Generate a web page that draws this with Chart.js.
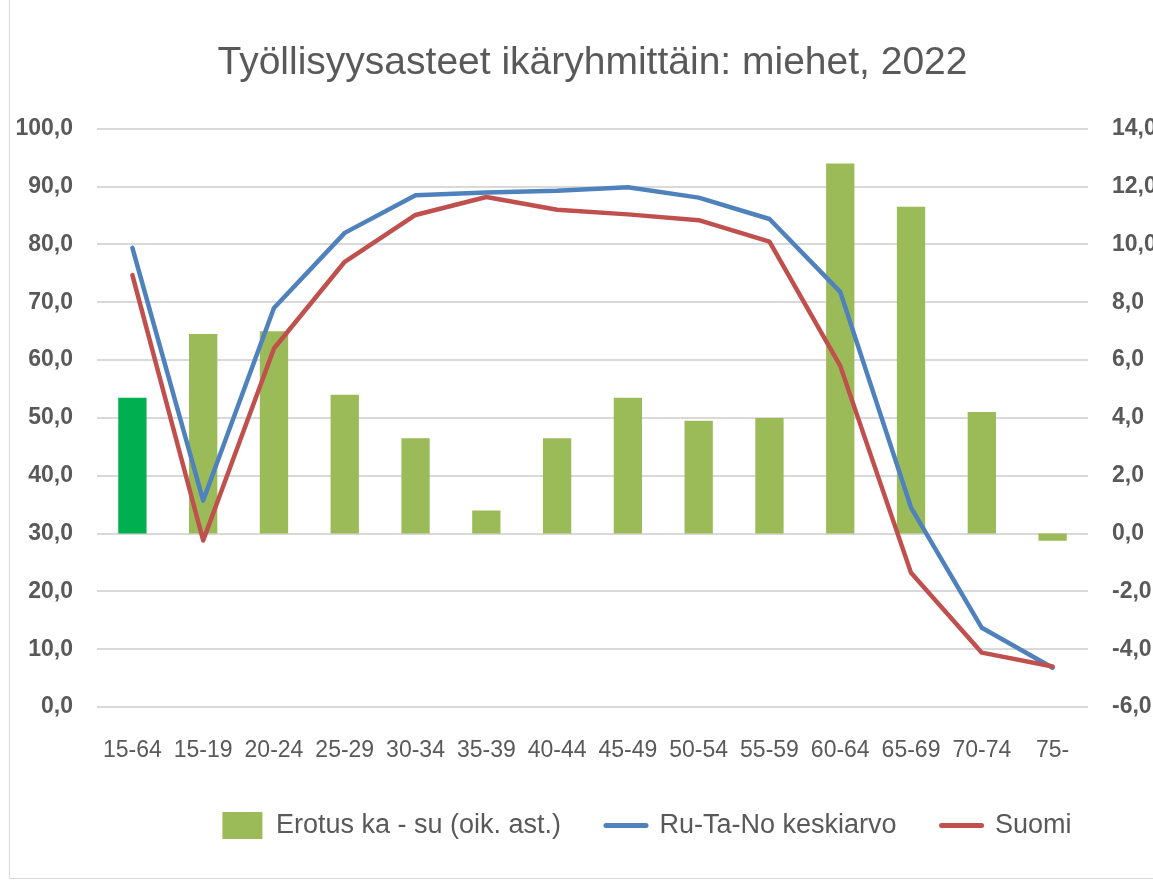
<!DOCTYPE html>
<html>
<head>
<meta charset="utf-8">
<script src="https://cdn.jsdelivr.net/npm/chart.js@4"></script>
<style>
  html, body { margin: 0; padding: 0; background: #fff; overflow: hidden; }
  #wrap { position: relative; width: 1153px; height: 882px; overflow: hidden; }
  #frame { position: absolute; left: 9px; top: -5px; width: 1300px; height: 884px; border: 1px solid #d9d9d9; box-sizing: border-box; }
  #myChart { position: absolute; left: 0; top: 0; }
</style>
</head>
<body>
<div id="wrap">
  <div id="frame"></div>
  <canvas id="myChart" width="1294" height="882"></canvas>
</div>
<script>
'use strict'

// age groups on the x axis
const ageGroups = ['15-64', '15-19', '20-24', '25-29', '30-34', '35-39', '40-44', '45-49', '50-54', '55-59', '60-64', '65-69', '70-74', '75-'];

// difference (right axis), average of Ru-Ta-No, Finland (left axis)
const erotus = [4.7, 6.9, 7.0, 4.8, 3.3, 0.8, 3.3, 4.7, 3.9, 4.0, 12.8, 11.3, 4.2, -0.25];
const keskiarvo = [79.4, 35.7, 69.0, 82.0, 88.5, 89.0, 89.3, 89.9, 88.1, 84.4, 71.8, 34.5, 13.7, 6.8];
const suomi = [74.7, 28.8, 62.0, 77.0, 85.1, 88.2, 86.0, 85.2, 84.2, 80.5, 59.0, 23.2, 9.4, 7.0];

const seriesNames = ['Erotus ka - su (oik. ast.)', 'Ru-Ta-No keskiarvo', 'Suomi'];
const titleText = 'Työllisyysasteet ikäryhmittäin: miehet, 2022';

const textColor = '#595959';
const fontName = "'Liberation Sans', Arial, sans-serif";

// first bar (15-64 total) is a darker green
var barColors = [];
for (let i = 0; i < ageGroups.length; i++) {
  barColors.push(i === 0 ? '#00b050' : '#9bbb59');
}

function commaFormat(value) {
  return value.toFixed(1).replace('.', ',');
}

let ctx = document.getElementById('myChart').getContext('2d');

let chart = new Chart(ctx, {
  type: 'bar',
  data: {
    labels: ageGroups,
    datasets: [{
      type: 'bar',
      label: seriesNames[0],
      data: erotus,
      backgroundColor: barColors,
      yAxisID: 'y1',
      categoryPercentage: 0.8,
      barPercentage: 0.5,
      order: 3
    },
    {
      type: 'line',
      label: seriesNames[1],
      data: keskiarvo,
      borderColor: '#4f81bd',
      backgroundColor: '#4f81bd',
      borderWidth: 4.5,
      borderCapStyle: 'round',
      borderJoinStyle: 'round',
      pointRadius: 0,
      tension: 0,
      yAxisID: 'y',
      order: 2
    },
    {
      type: 'line',
      label: seriesNames[2],
      data: suomi,
      borderColor: '#c0504d',
      backgroundColor: '#c0504d',
      borderWidth: 4.5,
      borderCapStyle: 'round',
      borderJoinStyle: 'round',
      pointRadius: 0,
      tension: 0,
      yAxisID: 'y',
      order: 1
    }]
  },
  options: {
    responsive: false,
    animation: false,
    layout: {
      padding: { top: 0, left: 0, right: 0, bottom: 33 }
    },
    plugins: {
      tooltip: { enabled: false },
      title: {
        display: true,
        fullSize: false,
        text: titleText,
        color: textColor,
        font: { family: fontName, size: 39, weight: 'normal' },
        padding: { top: 40, bottom: 42 }
      },
      legend: {
        position: 'bottom',
        labels: {
          color: textColor,
          font: { family: fontName, size: 27 },
          usePointStyle: true,
          pointStyleWidth: 40,
          boxHeight: 27,
          padding: 45,
          sort: function (a, b) { return a.datasetIndex - b.datasetIndex; },
          generateLabels: function (chart) {
            let items = Chart.defaults.plugins.legend.labels.generateLabels(chart);
            items.forEach(function (item) {
              if (item.datasetIndex === 0) {
                item.pointStyle = 'rect';
                item.fillStyle = '#9bbb59';
                item.strokeStyle = '#9bbb59';
                item.lineWidth = 0;
              } else {
                item.pointStyle = 'line';
                item.lineWidth = 5;
                item.lineCap = 'round';
              }
            });
            return items;
          }
        }
      }
    },
    scales: {
      x: {
        afterFit: function (scale) { scale.height = 60; },
        grid: { display: false, drawTicks: false },
        border: { display: false },
        ticks: {
          color: textColor,
          font: { family: fontName, size: 23 },
          padding: 30,
          maxRotation: 0,
          autoSkip: false
        }
      },
      y: {
        position: 'left',
        min: 0,
        max: 100,
        afterFit: function (scale) { scale.width = 97; },
        grid: { color: '#d9d9d9', lineWidth: 2, drawTicks: false },
        border: { display: false },
        ticks: {
          stepSize: 10,
          color: textColor,
          font: { family: fontName, size: 23, weight: 'bold' },
          padding: 24,
          callback: function (value) { return commaFormat(value); }
        }
      },
      y1: {
        position: 'right',
        min: -6,
        max: 14,
        afterFit: function (scale) { scale.width = 206; },
        grid: { display: false, drawTicks: false },
        border: { display: false },
        ticks: {
          stepSize: 2,
          color: textColor,
          font: { family: fontName, size: 23, weight: 'bold' },
          padding: 24,
          callback: function (value) { return commaFormat(value); }
        }
      }
    }
  }
});
</script>
</body>
</html>
